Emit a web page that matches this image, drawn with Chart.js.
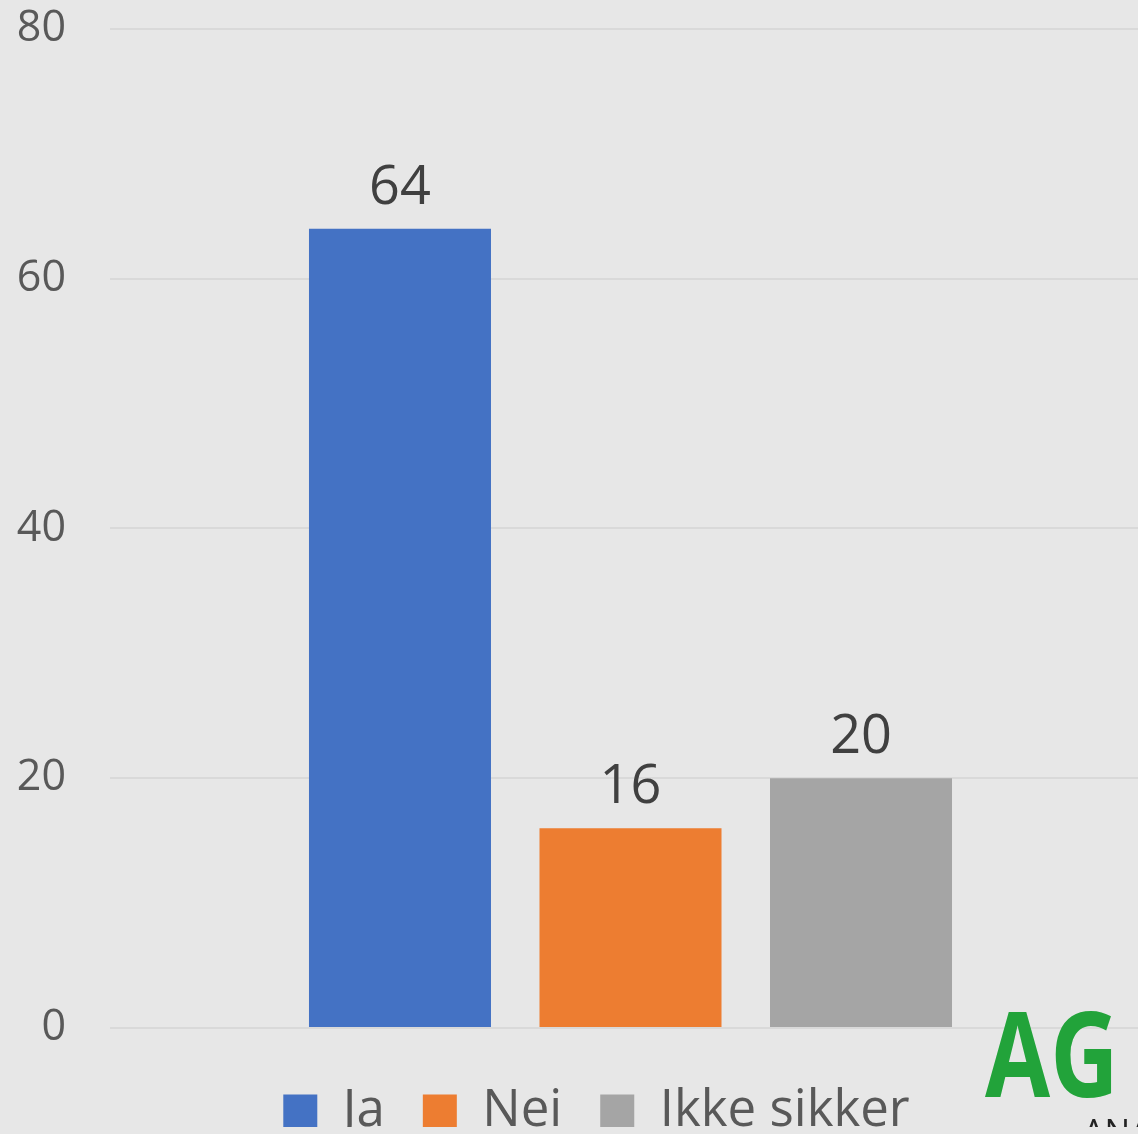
<!DOCTYPE html>
<html>
<head>
<meta charset="utf-8">
<script src="https://cdn.jsdelivr.net/npm/chart.js@4.4.1/dist/chart.umd.min.js"></script>
<style>
    html, body { margin: 0; padding: 0; background: #e7e7e7; overflow: hidden; }
    #wrap { position: relative; top: -41px; width: 1151px; height: 1168px; }
</style>
</head>
<body>
<div id="wrap"><canvas id="answerChart"></canvas></div>
<script>
const categories = [""];
const seriesNames = ["Ja", "Nei", "Ikke sikker"];
const seriesValues = [64, 16, 20];
const seriesColours = ["#4472c4", "#ed7d31", "#a5a5a5"];
const yTicks = [0, 20, 40, 60, 80];

const FONT = "'Open Sans', 'Noto Sans', sans-serif";

// value above each bar
const barValues = {
    id: "barValues",
    afterDatasetsDraw(chart) {
        const ctx = chart.ctx;
        ctx.save();
        ctx.font = "54px " + FONT;
        ctx.fillStyle = "#404040";
        ctx.textAlign = "center";
        ctx.textBaseline = "alphabetic";
        chart.data.datasets.forEach((ds, i) => {
            chart.getDatasetMeta(i).data.forEach((bar, j) => {
                ctx.fillText(ds.data[j], bar.x, bar.y - 25);
            });
        });
        ctx.restore();
    }
};

// nudge the legend to where it sits in the original
const legendOffset = {
    id: "legendOffset",
    afterLayout(chart) {
        const lg = chart.legend;
        lg.left += 21; lg.right += 21;
        lg.top += 20; lg.bottom += 20;
    }
};

// corner logo (canvas is shifted up by 41px)
const logo = {
    id: "logo",
    afterDraw(chart) {
        const ctx = chart.ctx;
        ctx.save();
        ctx.translate(985, 1097 + 41);
        ctx.scale(0.8, 1);
        ctx.font = "bold 118px " + FONT;
        ctx.fillStyle = "#22a33a";
        ctx.textBaseline = "alphabetic";
        ctx.fillText("AG", 0, 0);
        ctx.restore();
        ctx.save();
        ctx.font = "34px " + FONT;
        ctx.fillStyle = "#222";
        ctx.fillText("ANA", 1083, 1134 + 41);
        ctx.restore();
    }
};

new Chart(document.getElementById("answerChart"), {
    type: "bar",
    data: {
        labels: categories,
        datasets: seriesNames.map((name, i) => ({
            label: name,
            data: [seriesValues[i]],
            backgroundColor: seriesColours[i],
            categoryPercentage: 0.6643,
            barPercentage: 0.7896
        }))
    },
    options: {
        responsive: true,
        maintainAspectRatio: false,
        animation: false,
        layout: { padding: 0 },
        plugins: {
            legend: {
                position: "bottom",
                labels: {
                    boxWidth: 34,
                    boxHeight: 34,
                    padding: 38,
                    color: "#595959",
                    font: { family: FONT, size: 51 }
                }
            },
            tooltip: { enabled: false }
        },
        scales: {
            x: { display: false },
            y: {
                min: 0,
                max: 80,
                afterBuildTicks(scale) {
                    scale.ticks = yTicks.map(v => ({ value: v }));
                },
                afterFit(scale) { scale.width = 110; },
                border: { display: false },
                grid: { color: "#d9d9d9", lineWidth: 2, drawTicks: false },
                ticks: {
                    padding: 44,
                    color: "#595959",
                    font: { family: FONT, size: 43 }
                }
            }
        }
    },
    plugins: [barValues, legendOffset, logo]
});
</script>
</body>
</html>
